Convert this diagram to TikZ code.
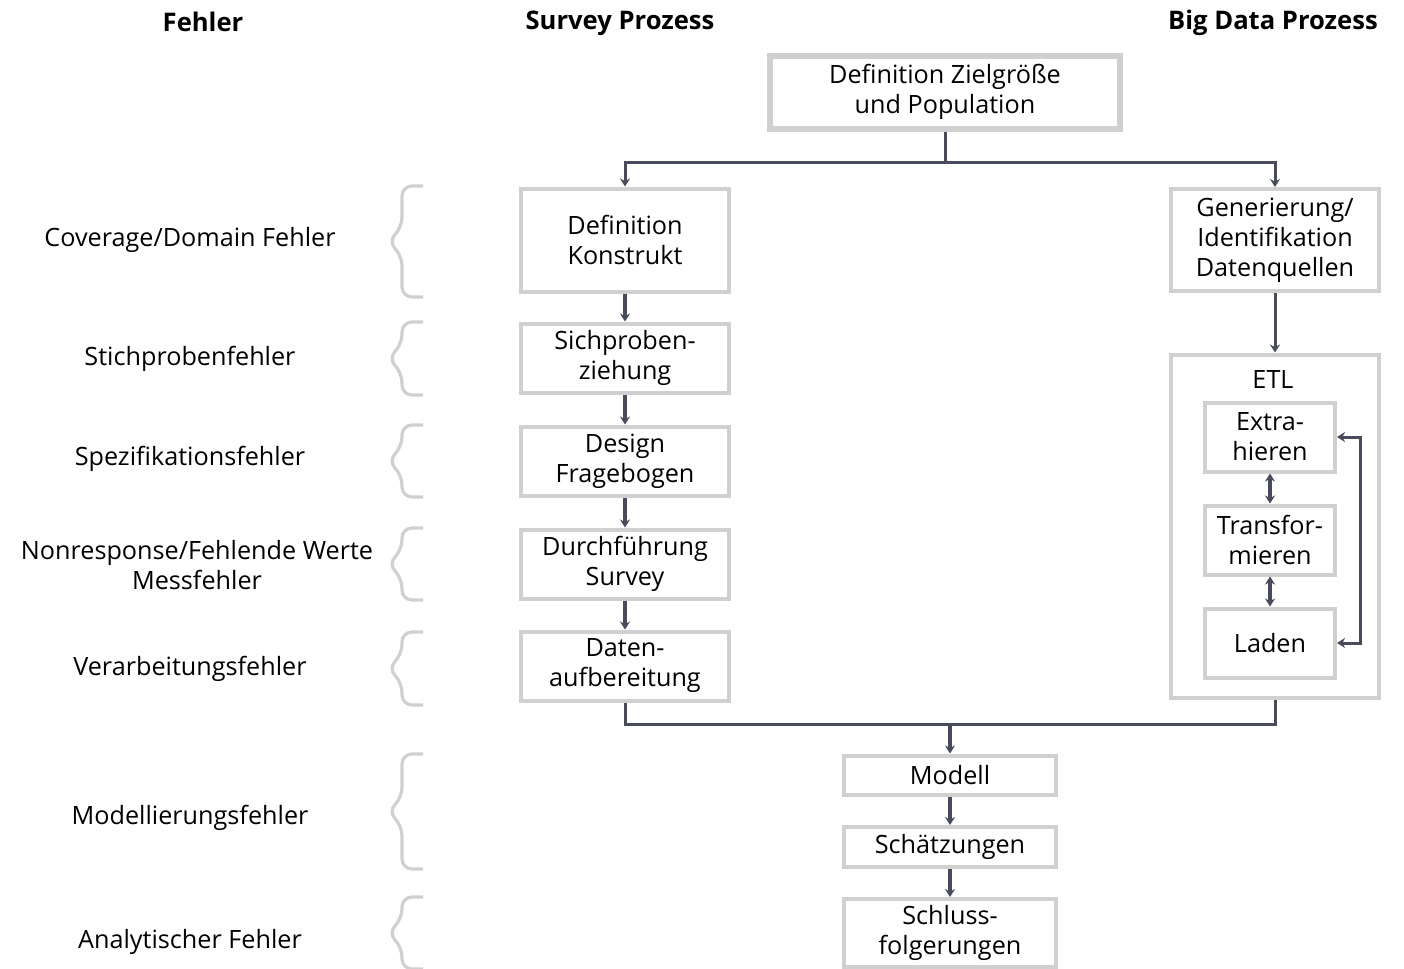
\documentclass[tikz,border=0pt]{standalone}
\usepackage{fontspec}
\setmainfont{Open Sans}
\usetikzlibrary{arrows.meta, positioning}

\definecolor{boxgray}{HTML}{D0D0D0}
\definecolor{linegray}{HTML}{474B5B}

\tikzset{
  box/.style={draw=boxgray, line width=2pt, fill=white, align=center, inner sep=0pt,
    font=\fontsize{12.6pt}{15pt}\selectfont},
  txt/.style={align=center, font=\fontsize{12.6pt}{15pt}\selectfont},
  kopf/.style={font=\fontsize{12.8pt}{15pt}\selectfont\bfseries},
  flow/.style={draw=linegray, line width=1.5pt, -{Stealth[length=4pt,width=5pt]}},
  flowthick/.style={flow, line width=2.4pt},
  flowboth/.style={draw=linegray, line width=1.5pt, {Stealth[length=4pt,width=5pt]}-{Stealth[length=4pt,width=5pt]}},
  line/.style={draw=linegray, line width=1.5pt},
  klammer/.style={draw=boxgray, line width=1.6pt, rounded corners=5pt}
}

\newcommand{\fehlerklammer}[2]{%
  \draw[klammer] (423,#1) -- (402,#1) -- (402,{(#1+#2)/2-14}) -- (388,{(#1+#2)/2})
    -- (402,{(#1+#2)/2+14}) -- (402,#2) -- (423,#2);}

\begin{document}
\begin{tikzpicture}[x=0.5pt, y=-0.5pt]
        \useasboundingbox (0,0) rectangle (1404,969);

        \node[kopf] (hfehler) at (203,22) {Fehler};
        \node[kopf] (hsurvey) at (620,23) {Survey Prozess};
        \node[kopf] (hbigdata) at (1273,23) {Big Data Prozess};

        \node[box, line width=3pt, minimum width=175pt, minimum height=36.5pt] (top) at (945,92) {Definition Zielgröße\\und Population};

        \node[box, minimum width=104pt, minimum height=51.5pt] (konstrukt) at (625,240) {Definition\\Konstrukt};
        \node[box, minimum width=104pt, minimum height=34.5pt] (stichprobe) at (625,358) {Sichproben-\\ziehung};
        \node[box, minimum width=104pt, minimum height=34.5pt] (design) at (625,461) {Design\\Fragebogen};
        \node[box, minimum width=104pt, minimum height=34.5pt] (durchf) at (625,564) {Durchführung\\Survey};
        \node[box, minimum width=104pt, minimum height=34.5pt] (daten) at (625,666) {Daten-\\aufbereitung};

        \node[box, minimum width=104pt, minimum height=51pt] (gen) at (1275,240) {Generierung/\\Identifikation\\Datenquellen};
        \node[box, minimum width=104pt, minimum height=171.5pt] (etl) at (1275,526) {};
        \node[txt] (etltitel) at (1273,380) {ETL};
        \node[box, minimum width=65pt, minimum height=34.5pt] (extra) at (1270,437) {Extra-\\hieren};
        \node[box, minimum width=65pt, minimum height=34.5pt] (trans) at (1270,540) {Transfor-\\mieren};
        \node[box, minimum width=65pt, minimum height=34.5pt] (laden) at (1270,643) {Laden};

        \node[box, minimum width=106pt, minimum height=19.5pt] (modell) at (950,775) {Modell};
        \node[box, minimum width=106pt, minimum height=20pt] (schaetz) at (950,847) {Schätzungen};
        \node[box, minimum width=106pt, minimum height=34pt] (schluss) at (950,933) {Schluss-\\folgerungen};

        \node[txt] (fcoverage) at (190,240) {Coverage/Domain Fehler};
        \node[txt] (fstich) at (190,359) {Stichprobenfehler};
        \node[txt] (fspez) at (190,459) {Spezifikationsfehler};
        \node[txt] (fnonresp) at (197,565) {Nonresponse/Fehlende Werte\\Messfehler};
        \node[txt] (fverarb) at (190,669) {Verarbeitungsfehler};
        \node[txt] (fmodell) at (190,818) {Modellierungsfehler};
        \node[txt] (fanalyt) at (190,942) {Analytischer Fehler};

        \fehlerklammer{186}{297}
        \fehlerklammer{322}{395}
        \fehlerklammer{425}{497}
        \fehlerklammer{528}{600}
        \fehlerklammer{632}{705}
        \fehlerklammer{754}{869}
        \fehlerklammer{897}{969}

        \coordinate (split) at (945,162);
        \draw[line] (top.south) -- (split);
        \draw[flow] (split) -| (konstrukt.north);
        \draw[flow] (split) -| (gen.north);

        \draw[flowthick] (konstrukt) -- (stichprobe);
        \draw[flowthick] (stichprobe) -- (design);
        \draw[flowthick] (design) -- (durchf);
        \draw[flowthick] (durchf) -- (daten);

        \draw[flow] (gen) -- (etl);
        \draw[flowboth, line width=2.4pt] (extra) -- (trans);
        \draw[flowboth, line width=2.4pt] (trans) -- (laden);
        \draw[flowboth] (extra.east) -- ++(23,0) |- (laden.east);

        \coordinate (merge) at (950,724);
        \draw[line] (daten.south) |- (merge) -| (etl.south);
        \draw[flowthick] (merge) -- (modell.north);
        \draw[flowthick] (modell) -- (schaetz);
        \draw[flowthick] (schaetz) -- (schluss);
    \end{tikzpicture}
\end{document}
